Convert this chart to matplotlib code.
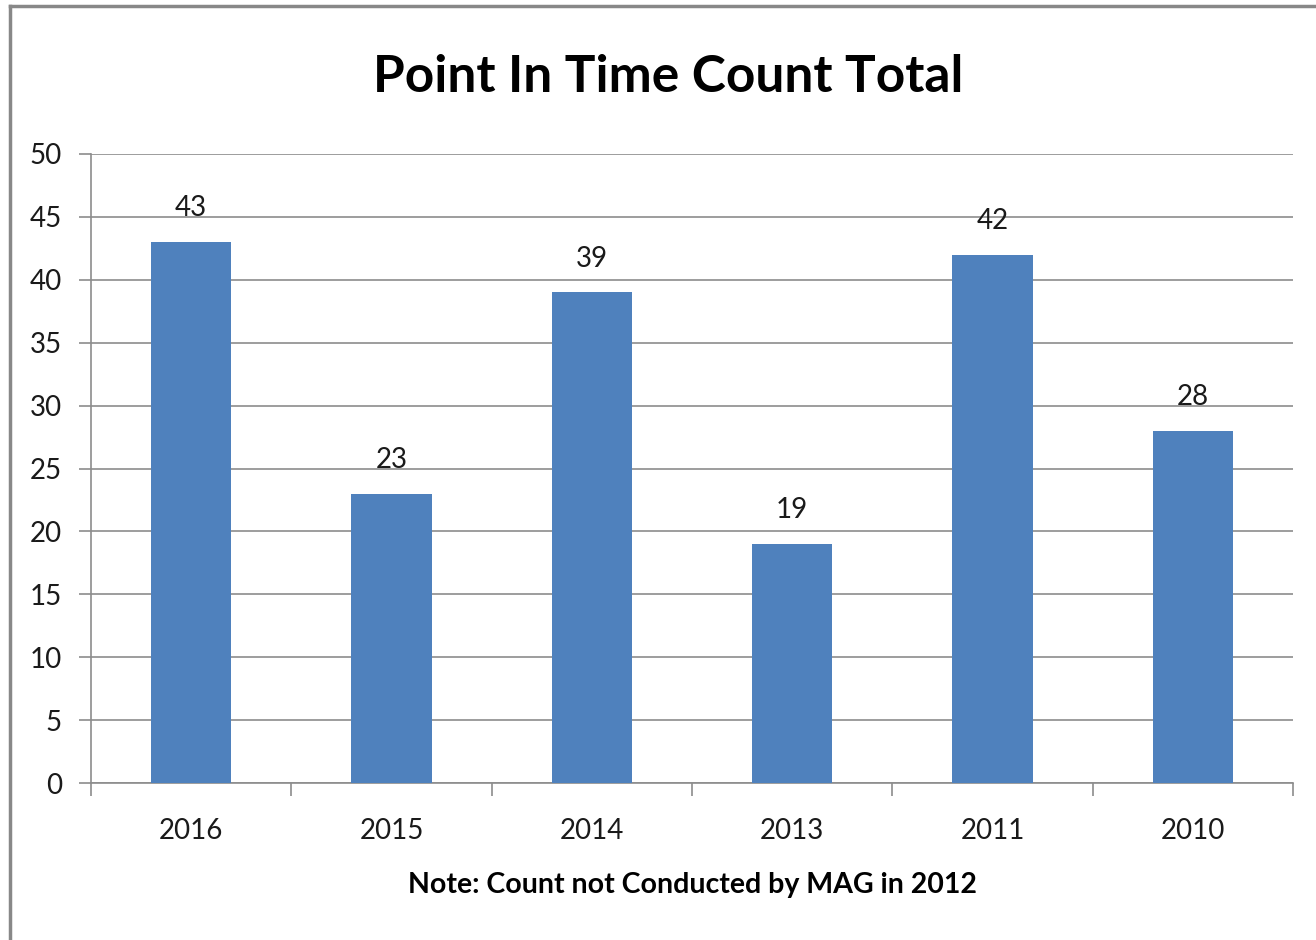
import matplotlib
matplotlib.use("Agg")
import matplotlib.pyplot as plt
from matplotlib.lines import Line2D
import numpy as np

years = ["2016", "2015", "2014", "2013", "2011", "2010"]
counts = [43, 23, 39, 19, 42, 28]
yticks = [0, 5, 10, 15, 20, 25, 30, 35, 40, 45, 50]

plt.rcParams['font.family'] = ['Lato', 'DejaVu Sans']

fig = plt.figure(figsize=(13.16, 9.4), dpi=100)
ax = fig.add_axes([91/1316, 1-783/940, (1293-91)/1316, (783-154)/940])

x = np.arange(len(years))
bar_color = "#4F81BD"
grid_color = "#8c8c8c"
bars = ax.bar(x, counts, width=0.4, color=bar_color, zorder=3)

ax.set_xlim(-0.5, len(years) - 0.5)
ax.set_ylim(0, 50)
ax.set_yticks(yticks)
ax.set_yticklabels([str(v) for v in yticks], fontsize=20, color="#1a1a1a")
ax.set_xticks(x)
ax.set_xticklabels(years, fontsize=20, color="#1a1a1a")
ax.tick_params(axis='x', which='major', length=0, pad=25)
ax.set_xticks(np.arange(-0.5, len(years)), minor=True)
ax.tick_params(axis='x', which='minor', length=9, width=1.2, color=grid_color, direction='out')
ax.tick_params(axis='y', length=9, width=1.2, color=grid_color, direction='out', pad=12)

ax.grid(axis='y', color=grid_color, linewidth=1.2, zorder=0)
for s in ['top', 'right']:
    ax.spines[s].set_visible(False)
for s in ['left', 'bottom']:
    ax.spines[s].set_color(grid_color)
    ax.spines[s].set_linewidth(1.2)

for xi, v in zip(x, counts):
    ax.annotate(str(v), (xi, v), xytext=(0, 15), textcoords='offset points',
                ha='center', va='bottom', fontsize=20, color="#1a1a1a")

fig.text(668/1316, 1-77/940, "Point In Time Count Total", ha='center', va='center',
         fontsize=37, fontweight='bold', color='black')
ax.set_xlabel("Note: Count not Conducted by MAG in 2012", fontsize=20.5,
              fontweight='bold', labelpad=20, color='black')

# chart frame (left and top edges visible)
fig.add_artist(Line2D([10/1316, 10/1316], [0, 1-6/940], color="#888888", linewidth=2.5, transform=fig.transFigure))
fig.add_artist(Line2D([10/1316, 1], [1-6/940, 1-6/940], color="#888888", linewidth=2.5, transform=fig.transFigure))

fig.savefig("out.png", dpi=100)
